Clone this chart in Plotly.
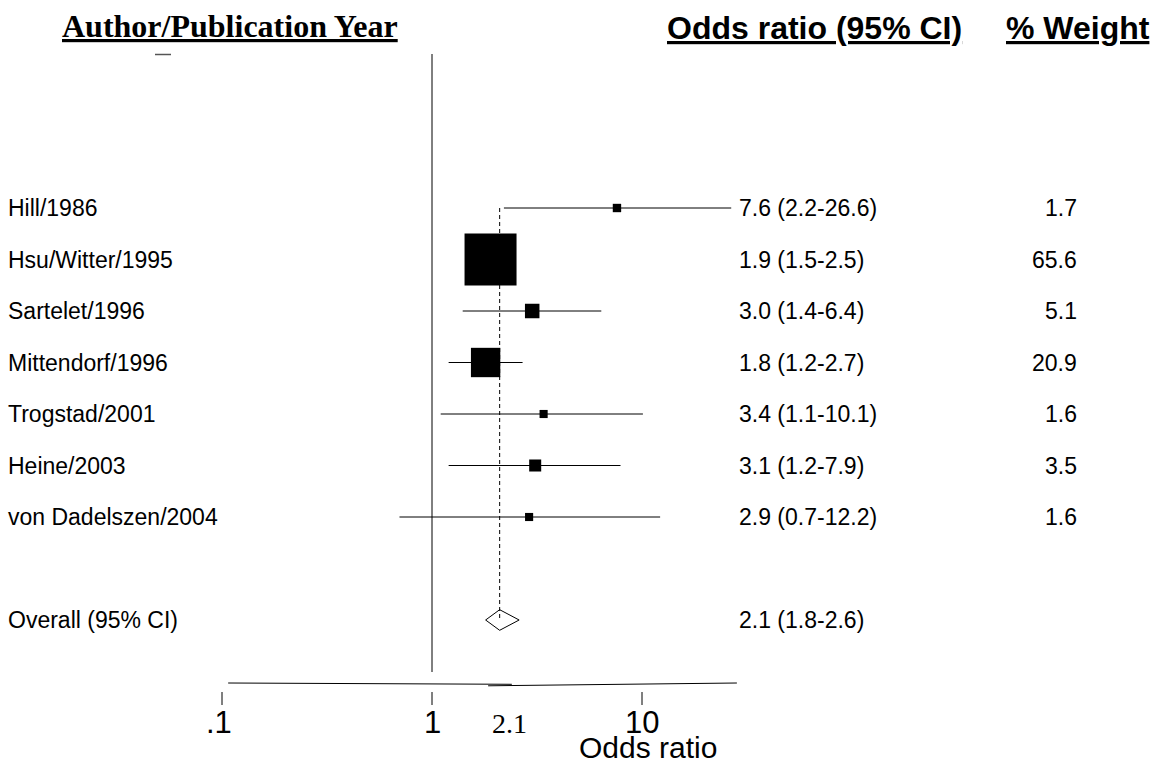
import plotly.graph_objects as go
import math

studies = ["Hill/1986", "Hsu/Witter/1995", "Sartelet/1996", "Mittendorf/1996",
           "Trogstad/2001", "Heine/2003", "von Dadelszen/2004"]
odds = [7.6, 1.9, 3.0, 1.8, 3.4, 3.1, 2.9]
ci_low = [2.2, 1.5, 1.4, 1.2, 1.1, 1.2, 0.7]
ci_high = [26.6, 2.5, 6.4, 2.7, 10.1, 7.9, 12.2]
weights = [1.7, 65.6, 5.1, 20.9, 1.6, 3.5, 1.6]
overall_label = "Overall (95% CI)"
overall_or = 2.1
overall_low = 1.8
overall_high = 2.6
tick_vals = [0.1, 1, 10]
tick_text = [".1", "1", "10"]

W, H = 1155, 765
ARIAL = "Liberation Sans, Arial, sans-serif"
TIMES = "Liberation Serif, Times New Roman, serif"

# pixel helpers for layout (row index <-> pixel)
ROW0, ROWH = 208.0, 51.5
def py(px):
    return (px - ROW0) / ROWH
def pxp(px):
    return px / W

n = len(studies)
rows = list(range(n))
overall_row = n + 1

fig = go.Figure()

# reference line at OR = 1
fig.add_trace(go.Scatter(x=[1, 1], y=[py(54), py(672)], mode="lines",
                         line=dict(color="black", width=1), hoverinfo="skip"))
# dashed overall line
fig.add_trace(go.Scatter(x=[overall_or, overall_or], y=[0, overall_row], mode="lines",
                         line=dict(color="black", width=1, dash="4px,3px"), hoverinfo="skip"))

# CI lines
xs, ys = [], []
for i in rows:
    xs += [ci_low[i], ci_high[i], None]
    ys += [i, i, None]
fig.add_trace(go.Scatter(x=xs, y=ys, mode="lines", line=dict(color="black", width=1),
                         hoverinfo="skip"))

# weight boxes
maxw = max(weights)
sizes = [52 * math.sqrt(w / maxw) for w in weights]
fig.add_trace(go.Scatter(x=odds, y=rows, mode="markers",
                         marker=dict(symbol="square", size=sizes, color="black", opacity=1,
                                     line=dict(width=0)), hoverinfo="skip"))

# overall diamond
dh = 0.2
fig.add_trace(go.Scatter(x=[overall_low, overall_or, overall_high, overall_or, overall_low],
                         y=[overall_row, overall_row - dh, overall_row, overall_row + dh, overall_row],
                         mode="lines", line=dict(color="black", width=1), hoverinfo="skip"))

# axis line (two slightly offset segments as in the original)
xmin, xmax = 0.107, 28.3
fig.add_trace(go.Scatter(x=[xmin, 2.4], y=[py(683), py(684.3)], mode="lines",
                         line=dict(color="black", width=1), hoverinfo="skip"))
fig.add_trace(go.Scatter(x=[1.85, xmax], y=[py(685.8), py(683)], mode="lines",
                         line=dict(color="black", width=1), hoverinfo="skip"))
# ticks
tx, ty = [], []
for v in tick_vals:
    tx += [v, v, None]
    ty += [py(692), py(705), None]
fig.add_trace(go.Scatter(x=tx, y=ty, mode="lines", line=dict(color="black", width=1),
                         hoverinfo="skip"))

# small stray dash
fig.add_trace(go.Scatter(x=[10 ** ((155 - 432) / 210), 10 ** ((171 - 432) / 210)],
                         y=[py(54.5), py(54.5)], mode="lines",
                         line=dict(color="#555", width=1.5), hoverinfo="skip"))

ann = []
# headers
ann.append(dict(text="<b>Author/Publication Year</b>", x=pxp(60), y=py(26), xref="paper", yref="y",
                xanchor="left", yanchor="middle", showarrow=False,
                font=dict(family=TIMES, size=32, color="black", lineposition="under")))
ann.append(dict(text="<b>Odds ratio (95% CI)</b>", x=pxp(665), y=py(28), xref="paper", yref="y",
                xanchor="left", yanchor="middle", showarrow=False,
                font=dict(family=ARIAL, size=32, color="black", lineposition="under")))
ann.append(dict(text="<b>% Weight</b>", x=pxp(1152), y=py(28), xref="paper", yref="y",
                xanchor="right", yanchor="middle", showarrow=False,
                font=dict(family=ARIAL, size=32, color="black", lineposition="under")))

# row labels, OR text, weights
for i in rows:
    ann.append(dict(text=studies[i], x=pxp(6), y=i, xref="paper", yref="y", xanchor="left",
                    yanchor="middle", showarrow=False, font=dict(family=ARIAL, size=23, color="black")))
    ann.append(dict(text=f"{odds[i]:.1f} ({ci_low[i]:.1f}-{ci_high[i]:.1f})", x=pxp(737), y=i,
                    xref="paper", yref="y", xanchor="left", yanchor="middle", showarrow=False,
                    font=dict(family=ARIAL, size=23, color="black")))
    ann.append(dict(text=f"{weights[i]:.1f}", x=pxp(1079), y=i, xref="paper", yref="y",
                    xanchor="right", yanchor="middle", showarrow=False,
                    font=dict(family=ARIAL, size=23, color="black")))
ann.append(dict(text=overall_label, x=pxp(6), y=overall_row, xref="paper", yref="y", xanchor="left",
                yanchor="middle", showarrow=False, font=dict(family=ARIAL, size=23, color="black")))
ann.append(dict(text=f"{overall_or:.1f} ({overall_low:.1f}-{overall_high:.1f})", x=pxp(737),
                y=overall_row, xref="paper", yref="y", xanchor="left", yanchor="middle",
                showarrow=False, font=dict(family=ARIAL, size=23, color="black")))

# tick labels
for v, t in zip(tick_vals, tick_text):
    ann.append(dict(text=t, x=math.log10(v), y=py(722), xref="x", yref="y", xanchor="center",
                    yanchor="middle", showarrow=False, xshift=-3 if t == ".1" else 0,
                    font=dict(family=ARIAL, size=31, color="black")))
ann.append(dict(text=f"{overall_or:.1f}", x=math.log10(overall_or), y=py(723), xref="x", yref="y",
                xanchor="center", yanchor="middle", xshift=10, showarrow=False,
                font=dict(family=TIMES, size=28, color="black")))
ann.append(dict(text="Odds ratio", x=pxp(648), y=py(747), xref="paper", yref="y", xanchor="center",
                yanchor="middle", showarrow=False, font=dict(family=ARIAL, size=30, color="black")))

fig.update_layout(
    width=W, height=H, margin=dict(l=0, r=0, t=0, b=0),
    paper_bgcolor="white", plot_bgcolor="white", showlegend=False,
    annotations=ann,
    xaxis=dict(type="log", range=[-432 / 210, (W - 432) / 210], visible=False, domain=[0, 1]),
    yaxis=dict(range=[py(H), py(0)], visible=False, domain=[0, 1]),
)

fig.write_html("out.html", config={"displayModeBar": False},
               post_script="document.body.style.margin='0';document.body.style.overflow='hidden';")
